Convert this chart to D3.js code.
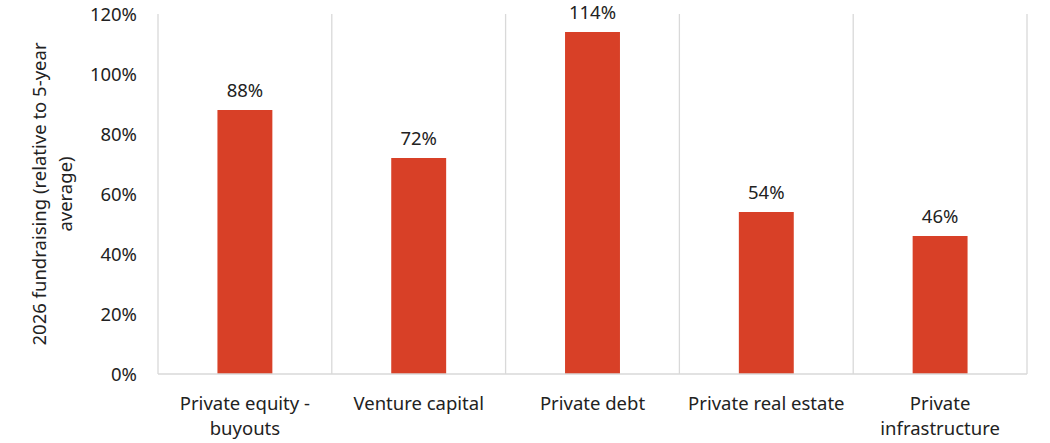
<!DOCTYPE html>
<html>
<head>
<meta charset="utf-8">
<script src="https://cdn.jsdelivr.net/npm/d3@7"></script>
<style>
  body { margin: 0; background: #fff; }
  text { font-family: "Noto Sans", sans-serif; fill: #222; }
</style>
</head>
<body>
<div id="chart"></div>
<script>
// data
const categories = [["Private equity -", "buyouts"], ["Venture capital"], ["Private debt"], ["Private real estate"], ["Private", "infrastructure"]];
const values = [88, 72, 114, 54, 46];
const yTicks = [0, 20, 40, 60, 80, 100, 120];
const yTitle = ["2026 fundraising (relative to 5-year", "average)"];

const width = 1050, height = 443;
const margin = {top: 14, right: 23, bottom: 69, left: 158};
const fs = "18.5px";

const svg = d3.select("#chart").append("svg")
  .attr("width", width)
  .attr("height", height);

const names = categories.map(c => c.join(" "));
const x = d3.scaleBand().domain(names)
  .range([margin.left, width - margin.right])
  .paddingInner(0.684).paddingOuter(0.342);
const y = d3.scaleLinear().domain([0, 120]).range([height - margin.bottom, margin.top]);

// vertical separators between categories
const step = x.step();
const bounds = d3.range(names.length + 1).map(i => margin.left + i * step);
svg.append("g").selectAll("line").data(bounds).join("line")
  .attr("x1", d => d).attr("x2", d => d)
  .attr("y1", y(120)).attr("y2", y(0))
  .attr("stroke", "#d9d9d9").attr("stroke-width", 1.3);

// bars
svg.append("g").selectAll("rect").data(values).join("rect")
  .attr("x", (d, i) => x(names[i]))
  .attr("width", x.bandwidth())
  .attr("y", d => y(d))
  .attr("height", d => y(0) - y(d))
  .attr("fill", "#d84027");

// base line
svg.append("line")
  .attr("x1", margin.left).attr("x2", width - margin.right)
  .attr("y1", y(0)).attr("y2", y(0))
  .attr("stroke", "#d9d9d9").attr("stroke-width", 1.3);

// value labels
svg.append("g").selectAll("text").data(values).join("text")
  .attr("x", (d, i) => x(names[i]) + x.bandwidth() / 2)
  .attr("y", d => y(d) - 13)
  .attr("text-anchor", "middle")
  .style("font-size", fs)
  .text(d => d + "%");

// y axis labels
const yAxis = svg.append("g")
  .attr("transform", `translate(${margin.left - 21},0)`)
  .call(d3.axisLeft(y).tickValues(yTicks).tickSize(0).tickFormat(d => d + "%"));
yAxis.select(".domain").remove();
yAxis.selectAll("text")
  .attr("x", 0)
  .attr("dy", "0.35em")
  .style("font-size", fs)
  .style("font-family", "Noto Sans, sans-serif")
  .attr("fill", "#222");

// category labels
const catG = svg.append("g").selectAll("text").data(categories).join("text")
  .attr("text-anchor", "middle")
  .attr("transform", (d, i) => `translate(${x(names[i]) + x.bandwidth() / 2},${y(0) + 36})`)
  .style("font-size", fs);
catG.selectAll("tspan").data(d => d).join("tspan")
  .attr("x", 0)
  .attr("dy", (d, i) => i === 0 ? 0 : 25)
  .text(d => d);

// y axis title
const midY = (y(0) + y(120)) / 2;
svg.append("text")
  .attr("transform", `translate(46,${midY}) rotate(-90)`)
  .attr("text-anchor", "middle")
  .style("font-size", fs)
  .selectAll("tspan").data(yTitle).join("tspan")
  .attr("x", 0)
  .attr("dy", (d, i) => i === 0 ? 0 : 26)
  .text(d => d);
</script>
</body>
</html>
